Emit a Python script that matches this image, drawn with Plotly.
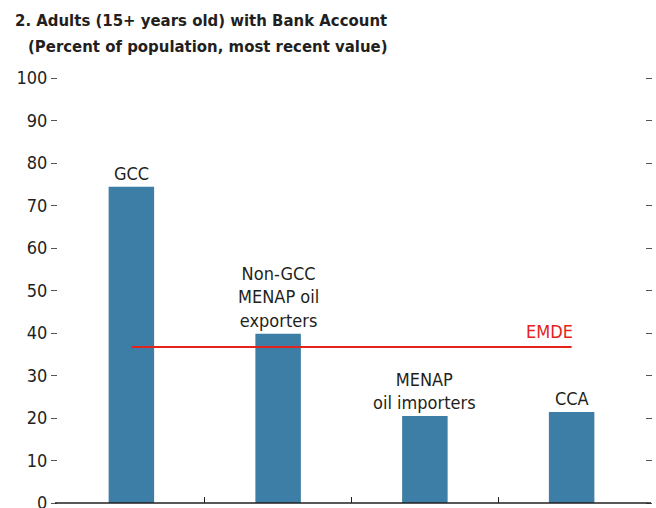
import plotly.graph_objects as go

categories = ["GCC", "Non-GCC<br>MENAP oil<br>exporters", "MENAP<br>oil importers", "CCA"]
values = [74.4, 39.8, 20.5, 21.4]
emde_value = 36.7
emde_label = "EMDE"
y_ticks = [0, 10, 20, 30, 40, 50, 60, 70, 80, 90, 100]
title_line1 = "2. Adults (15+ years old) with Bank Account"
title_line2 = "(Percent of population, most recent value)"

FONT = "DejaVu Sans Condensed, Roboto, Liberation Sans, sans-serif"
BLUE = "#3d7ea6"
RED = "#e3231c"
TXT = "#231f20"

W, H = 656, 508
L, R, T, B = 58, 11, 78, 5
PH = H - T - B
PW = W - L - R

xs = list(range(len(categories)))

fig = go.Figure()
fig.add_trace(go.Bar(x=xs, y=values, width=0.31, marker_color=BLUE, marker_line_width=0,
                     showlegend=False, hoverinfo="skip"))
fig.add_trace(go.Scatter(x=[xs[0], xs[-1]], y=[emde_value, emde_value], mode="lines",
                         line=dict(color=RED, width=2.2), showlegend=False, hoverinfo="skip"))
fig.add_trace(go.Scatter(x=[xs[0]], y=[0], yaxis="y2", mode="markers",
                         marker=dict(opacity=0), showlegend=False, hoverinfo="skip"))

for x, v, c in zip(xs, values, categories):
    fig.add_annotation(x=x, y=v, text=c, showarrow=False, yanchor="bottom", yshift=1,
                       font=dict(family=FONT, size=18, color=TXT))
fig.add_annotation(x=2.85, y=emde_value, text=emde_label, showarrow=False, yanchor="bottom",
                   yshift=3, font=dict(family=FONT, size=18, color=RED))

# title lines
fig.add_annotation(xref="paper", yref="paper", x=(13 - L) / PW, y=(H - B - 20) / PH,
                   xanchor="left", yanchor="middle", showarrow=False, text="<b>" + title_line1 + "</b>",
                   font=dict(family=FONT, size=16.6, color=TXT))
fig.add_annotation(xref="paper", yref="paper", x=(26 - L) / PW, y=(H - B - 46) / PH,
                   xanchor="left", yanchor="middle", showarrow=False, text="<b>" + title_line2 + "</b>",
                   font=dict(family=FONT, size=16.6, color=TXT))

# baseline axis line slightly extended beyond the plot area
fig.add_shape(type="line", xref="paper", yref="paper", x0=(55 - L) / PW, x1=(651 - L) / PW,
              y0=0, y1=0, line=dict(color=TXT, width=1.5), layer="above")

fig.update_layout(
    width=W, height=H,
    margin=dict(l=L, r=R, t=T, b=B, autoexpand=False),
    paper_bgcolor="white", plot_bgcolor="white",
    font=dict(family=FONT, size=18, color=TXT),
    xaxis=dict(range=[-0.5, 3.5], tickvals=[-0.5, 0.5, 1.5, 2.5, 3.5], showticklabels=False,
               ticks="inside", ticklen=6, tickcolor=TXT, tickwidth=1.2, automargin=False,
               showline=False, showgrid=False, zeroline=False),
    yaxis=dict(range=[0, 100], tickvals=y_ticks, ticks="outside", ticklen=6, tickcolor="#555",
               tickwidth=1, showline=False, showgrid=False, zeroline=False,
               ticklabeloverflow="allow", automargin=False,
               tickfont=dict(family=FONT, size=18, color=TXT)),
    yaxis2=dict(range=[0, 100], tickvals=y_ticks, overlaying="y", side="right", ticks="outside",
                ticklen=6, tickcolor="#555", tickwidth=1, showticklabels=False, automargin=False,
                showline=False, showgrid=False, zeroline=False),
)

fig.write_html("out.html", config={"displayModeBar": False},
               post_script="document.body.style.margin='0';document.body.style.overflow='hidden';")
